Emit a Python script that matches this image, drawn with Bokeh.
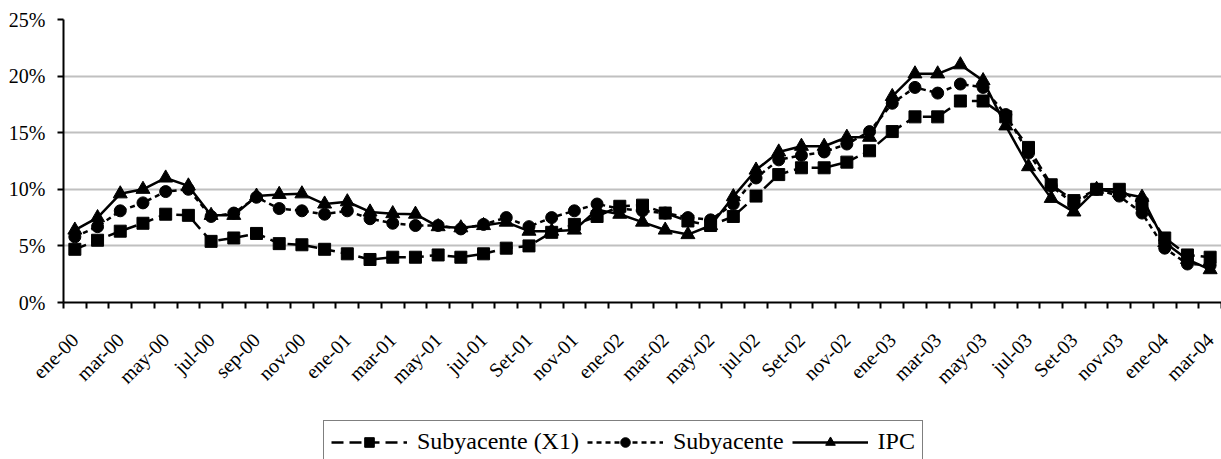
import math
from bokeh.plotting import figure
from bokeh.layouts import column
from bokeh.models import FixedTicker, PrintfTickFormatter, Legend, LegendItem, Range1d
from bokeh.embed import file_html
from bokeh.resources import INLINE

# Categories (monthly, ene-00 .. mar-04)
months = [
    "ene-00", "feb-00", "mar-00", "abr-00", "may-00", "jun-00", "jul-00", "ago-00", "sep-00", "oct-00", "nov-00", "dic-00",
    "ene-01", "feb-01", "mar-01", "abr-01", "may-01", "jun-01", "jul-01", "ago-01", "Set-01", "oct-01", "nov-01", "dic-01",
    "ene-02", "feb-02", "mar-02", "abr-02", "may-02", "jun-02", "jul-02", "ago-02", "Set-02", "oct-02", "nov-02", "dic-02",
    "ene-03", "feb-03", "mar-03", "abr-03", "may-03", "jun-03", "jul-03", "ago-03", "Set-03", "oct-03", "nov-03", "dic-03",
    "ene-04", "feb-04", "mar-04",
]

# Series values (%)
subyacente_x1 = [
    4.7, 5.5, 6.3, 7.0, 7.8, 7.7, 5.4, 5.7, 6.1, 5.2, 5.1, 4.7,
    4.3, 3.8, 4.0, 4.0, 4.2, 4.0, 4.3, 4.8, 5.0, 6.2, 6.9, 7.6,
    8.5, 8.6, 7.9, 7.2, 6.8, 7.6, 9.4, 11.3, 11.9, 11.9, 12.4, 13.4,
    15.1, 16.4, 16.4, 17.8, 17.8, 16.4, 13.7, 10.4, 9.0, 10.0, 10.0, 8.7,
    5.7, 4.2, 4.0,
]
subyacente = [
    5.8, 6.7, 8.1, 8.8, 9.8, 10.0, 7.6, 7.9, 9.3, 8.3, 8.1, 7.8,
    8.1, 7.4, 7.0, 6.8, 6.8, 6.5, 6.9, 7.5, 6.7, 7.5, 8.1, 8.7,
    8.3, 8.1, 7.9, 7.5, 7.3, 8.7, 11.0, 12.6, 13.0, 13.3, 14.0, 15.1,
    17.6, 19.0, 18.5, 19.3, 19.0, 16.6, 13.2, 10.3, 8.7, 10.0, 9.4, 7.9,
    4.8, 3.4, 3.3,
]
ipc = [
    6.4, 7.5, 9.6, 10.0, 11.0, 10.3, 7.7, 7.7, 9.4, 9.55, 9.6, 8.7,
    8.9, 8.0, 7.85, 7.8, 6.7, 6.6, 6.8, 7.1, 6.3, 6.3, 6.4, 8.2,
    7.8, 7.1, 6.4, 6.0, 6.8, 9.35, 11.7, 13.3, 13.8, 13.8, 14.6, 14.6,
    18.2, 20.2, 20.2, 21.0, 19.6, 15.6, 12.0, 9.2, 8.0, 10.0, 9.7, 9.3,
    5.3, 3.8, 2.9,
]
y_ticks = [0, 5, 10, 15, 20, 25]
series_names = ["Subyacente (X1)", "Subyacente", "IPC"]

n = len(months)
xs = list(range(n))
label_idx = list(range(0, n, 2))

FONT = "Liberation Serif"
W = 1221
H_MAIN = 415
H_LEG = 44

p = figure(width=W, height=H_MAIN, output_backend="svg", toolbar_location=None,
           x_range=Range1d(-0.5, n - 0.5), y_range=Range1d(0, 25),
           min_border_left=63, min_border_right=0, min_border_top=19, min_border_bottom=113)
p.outline_line_color = None
p.background_fill_color = "white"
p.border_fill_color = "white"

# x axis: boundary ticks as minor ticks, labels at every second category
xa = p.xaxis[0]
xa.ticker = FixedTicker(ticks=label_idx, minor_ticks=[i - 0.5 for i in range(n + 1)])
xa.major_label_overrides = {i: months[i] for i in label_idx}
xa.major_tick_in = 0
xa.major_tick_out = 0
xa.minor_tick_in = 0
xa.minor_tick_out = 6
xa.minor_tick_line_width = 2
xa.minor_tick_line_color = "black"
xa.axis_line_width = 2
xa.axis_line_color = "black"
xa.major_label_orientation = math.pi / 4
xa.major_label_text_font = FONT
xa.major_label_text_font_size = "20px"
xa.major_label_text_color = "black"
xa.major_label_standoff = 28

ya = p.yaxis[0]
ya.ticker = FixedTicker(ticks=y_ticks)
ya.formatter = PrintfTickFormatter(format="%d%%")
ya.major_tick_in = 0
ya.major_tick_out = 6
ya.major_tick_line_width = 2
ya.minor_tick_out = 0
ya.minor_tick_in = 0
ya.axis_line_width = 2
ya.axis_line_color = "black"
ya.major_label_text_font = FONT
ya.major_label_text_font_size = "20px"
ya.major_label_text_color = "black"
ya.major_label_standoff = 12

p.xgrid.visible = False
p.ygrid.ticker = FixedTicker(ticks=y_ticks)
p.ygrid.grid_line_color = "#c0c0c0"
p.ygrid.grid_line_width = 2

styles = [
    dict(dash="12 6", marker="square", size=12),
    dict(dash="5 4", marker="circle", size=12),
    dict(dash="solid", marker="triangle", size=14),
]
series = [subyacente_x1, subyacente, ipc]
for vals, st in zip(series, styles):
    p.line(xs, vals, line_color="black", line_width=2.5, line_dash=st["dash"])
    p.scatter(xs, vals, marker=st["marker"], size=st["size"], color="black")

# Legend panel (separate strip under the chart)
pl = figure(width=W, height=H_LEG, output_backend="svg", toolbar_location=None,
            x_range=Range1d(0, 1), y_range=Range1d(0, 1),
            x_axis_location=None, y_axis_location=None,
            min_border=0, min_border_left=0, min_border_right=0, min_border_top=0, min_border_bottom=0)
pl.outline_line_color = None
pl.grid.visible = False
pl.background_fill_color = "white"
pl.border_fill_color = "white"

items = []
for name, st in zip(series_names, styles):
    lr = pl.line([-10, -9], [-10, -9], line_color="black", line_width=2.5, line_dash=st["dash"])
    mr = pl.scatter([-10], [-10], marker=st["marker"], size=st["size"], color="black")
    items.append(LegendItem(label=name, renderers=[lr, mr]))

legend = Legend(items=items, orientation="horizontal", location=(260, -4),
                label_text_font=FONT, label_text_font_size="24px", label_text_color="black",
                glyph_width=76, glyph_height=24, label_standoff=10, spacing=8, padding=7, margin=0,
                border_line_color="black", border_line_width=1.5, background_fill_color="white",
                background_fill_alpha=1.0)
pl.add_layout(legend, "center")

layout = column(p, pl, spacing=0)
open("out.html", "w").write(file_html(layout, INLINE))
